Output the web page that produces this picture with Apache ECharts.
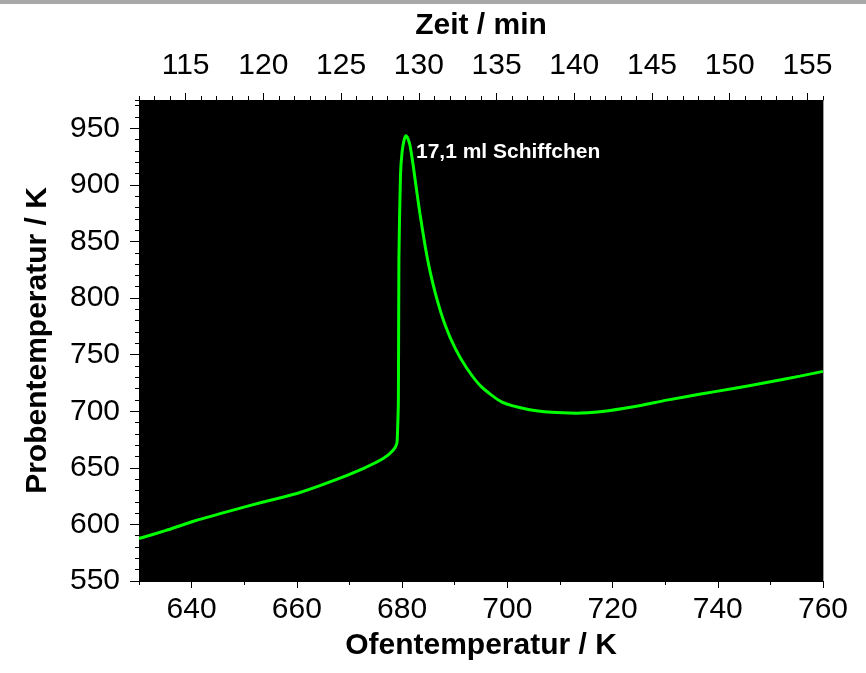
<!DOCTYPE html>
<html>
<head>
<meta charset="utf-8">
<script src="https://cdn.jsdelivr.net/npm/echarts@6/dist/echarts.min.js"></script>
<style>
  html, body { margin: 0; padding: 0; background: #fff; }
  #chart { width: 866px; height: 673px; }
</style>
</head>
<body>
<div id="chart"></div>
<script>
// Oven temperature (K) and sample temperature (K) along the run
const ovenTemp = [630, 635, 641, 647, 653.6, 660, 666.3, 672.6, 676.4, 678.3, 679.0, 679.15, 679.3, 679.4,
  679.7, 680.0, 680.4, 680.74, 681.1, 681.5, 682.1, 682.8, 683.4, 684.4, 685.3, 686.6, 688.2, 690.1,
  692.3, 695.1, 698.9, 704.0, 708.4, 713.1, 718.0, 724.0, 730.3, 736.5, 743.0, 750, 755.6, 760];
const sampleTemp = [587.5, 594.5, 603.7, 611.5, 619.8, 627.3, 637.5, 649.4, 658.2, 665.6, 671.5, 684, 710, 835,
  909, 929, 940, 943.5, 941, 935, 917.6, 893.8, 874.5, 845.5, 824, 799.5, 776, 755.5,
  738, 721.5, 708.3, 701.5, 699, 698.3, 699.8, 704, 709.8, 715, 720.1, 726, 731, 735.2];

const ovenTicks = [640, 660, 680, 700, 720, 740, 760];
const timeTicks = [115, 120, 125, 130, 135, 140, 145, 150, 155];
const sampleTicks = [550, 600, 650, 700, 750, 800, 850, 900, 950];

const peakLabel = '17,1 ml Schiffchen';

const FONT = "'Liberation Sans', Arial, Helvetica, sans-serif";
const labelStyle = { fontFamily: FONT, fontSize: 30, color: '#000' };
const nameStyle = { fontFamily: FONT, fontSize: 30, fontWeight: 'bold', color: '#000' };

const chart = echarts.init(document.getElementById('chart'), null, { renderer: 'canvas' });

const points = ovenTemp.map((t, i) => [t, sampleTemp[i]]);

chart.setOption({
  animation: false,
  backgroundColor: '#fff',
  grid: {
    left: 139, right: 43, top: 100, bottom: 92,
    show: true, backgroundColor: '#000', borderWidth: 0
  },
  xAxis: [
    {
      type: 'value', position: 'bottom', min: 630, max: 760,
      axisLine: { show: true, lineStyle: { color: '#000', width: 1 } },
      axisTick: { show: true, customValues: ovenTicks, length: 7, lineStyle: { color: '#000' } },
      axisLabel: { customValues: ovenTicks, margin: 14, ...labelStyle },
      splitLine: { show: false },
      name: 'Ofentemperatur / K', nameLocation: 'middle', nameGap: 50, nameTextStyle: nameStyle
    },
    {
      type: 'value', position: 'bottom', min: 630, max: 760, interval: 10,
      axisLine: { show: false },
      axisTick: { show: true, length: 4, lineStyle: { color: '#000' } },
      axisLabel: { show: false }, splitLine: { show: false }
    },
    {
      type: 'value', position: 'top', min: 112, max: 156,
      axisLine: { show: true, lineStyle: { color: '#000', width: 1 } },
      axisTick: { show: true, customValues: timeTicks, length: 7, lineStyle: { color: '#000' } },
      axisLabel: { customValues: timeTicks, margin: 19, ...labelStyle },
      splitLine: { show: false },
      name: 'Zeit / min', nameLocation: 'middle', nameGap: 59, nameTextStyle: nameStyle
    },
    {
      type: 'value', position: 'top', min: 112, max: 156, interval: 1,
      axisLine: { show: false },
      axisTick: { show: true, length: 4, lineStyle: { color: '#000' } },
      axisLabel: { show: false }, splitLine: { show: false }
    }
  ],
  yAxis: [
    {
      type: 'value', position: 'left', min: 550, max: 975,
      axisLine: { show: true, lineStyle: { color: '#000', width: 1 } },
      axisTick: { show: true, customValues: sampleTicks, length: 9, lineStyle: { color: '#000' } },
      axisLabel: { customValues: sampleTicks, margin: 19, ...labelStyle },
      splitLine: { show: false },
      name: 'Probentemperatur / K', nameLocation: 'middle', nameGap: 86, nameTextStyle: nameStyle
    },
    {
      type: 'value', position: 'left', min: 550, max: 975, interval: 10,
      axisLine: { show: false },
      axisTick: { show: true, length: 4, lineStyle: { color: '#000' } },
      axisLabel: { show: false }, splitLine: { show: false }
    },
    {
      type: 'value', position: 'right', min: 550, max: 975,
      axisLine: { show: true, lineStyle: { color: '#a0a0a0', width: 1 } },
      axisTick: { show: false }, axisLabel: { show: false }, splitLine: { show: false }
    }
  ],
  series: [
    {
      type: 'line', xAxisIndex: 0, yAxisIndex: 0,
      data: points,
      showSymbol: false, symbol: 'none',
      smooth: 0.2,
      lineStyle: { color: '#00ff00', width: 3 },
      clip: true
    }
  ]
});

// Peak annotation, placed next to the highest point of the curve
let peakIdx = 0;
sampleTemp.forEach((v, i) => { if (v > sampleTemp[peakIdx]) peakIdx = i; });
const peakPx = chart.convertToPixel({ xAxisIndex: 0, yAxisIndex: 0 }, [ovenTemp[peakIdx], sampleTemp[peakIdx]]);

chart.setOption({
  graphic: [
    {
      type: 'rect', left: 0, top: 0,
      shape: { width: 866, height: 4 },
      style: { fill: '#a8a8a8' }, silent: true
    },
    {
      type: 'text', x: peakPx[0] + 10, y: peakPx[1] + 17,
      style: {
        text: peakLabel, fill: '#fff', fontFamily: FONT, fontSize: 21, fontWeight: 'bold',
        align: 'left', verticalAlign: 'middle'
      },
      silent: true
    }
  ]
});
</script>
</body>
</html>
